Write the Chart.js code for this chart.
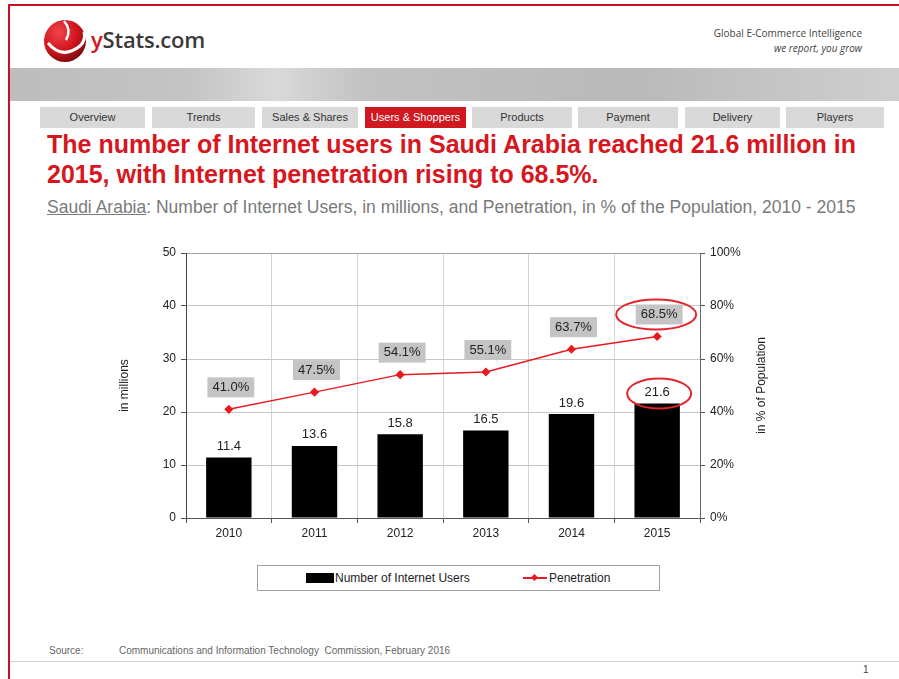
<!DOCTYPE html>
<html>
<head>
<meta charset="utf-8">
<script src="https://cdn.jsdelivr.net/npm/chart.js@4"></script>
<style>
  body { margin: 0; width: 899px; height: 679px; background: #fff; position: relative; overflow: hidden; font-family: "Liberation Sans", Arial, sans-serif; }
  .abs { position: absolute; }
  #frameTop { left: 8px; top: 4px; width: 891px; height: 2px; background: #c8101e; }
  #frameLeft { left: 8px; top: 4px; width: 2px; height: 675px; background: #c8101e; }
  #brand { left: 91px; top: 24px; font-family: "Open Sans", sans-serif; font-weight: 600; font-size: 22px; color: #3a3a3a; letter-spacing: -0.2px; }
  #brand span { color: #d0141c; }
  #claim { right: 37px; top: 26px; text-align: right; font-family: "Open Sans", sans-serif; font-size: 10px; color: #444; line-height: 15px; }
  #banner { left: 10px; top: 68px; width: 889px; height: 33px;
    background: linear-gradient(90deg, #bdbdbd 0%, #c4c4c4 20%, #d9d9d9 30%, #c2c2c2 40%, #b9b9b9 70%, #cfcfcf 100%); }
  .tab { top: 107px; height: 21px; line-height: 21px; background: #d9d9d9; color: #333; font-size: 11px; text-align: center; }
  .tab.on { background: #d01820; color: #fff; }
  #title { left: 47px; top: 129px; font-size: 25px; font-weight: bold; color: #d7161e; line-height: 30px; white-space: nowrap; }
  #subtitle { left: 47px; top: 197px; font-size: 17.5px; color: #7a7a7a; white-space: nowrap; }
  #subtitle u { text-decoration: underline; }
  #chartBox { left: 110px; top: 240px; width: 680px; height: 310px; }
  #legend { left: 257px; top: 565px; width: 401px; height: 24px; border: 1px solid #a0a0a0; font-size: 12px; color: #222; }
  #source { left: 49px; top: 645px; font-size: 10px; color: #666; }
  #source2 { left: 119px; top: 645px; font-size: 10px; color: #666; }
  #footLine { left: 10px; top: 661px; width: 889px; height: 1px; background: #d0d0d0; }
  #pageNo { left: 863px; top: 664px; font-size: 10px; color: #444; }
</style>
</head>
<body>
<div id="frameTop" class="abs"></div>
<div id="frameLeft" class="abs"></div>

<svg class="abs" style="left:42px;top:16px" width="48" height="48" viewBox="0 0 48 48">
  <defs>
    <radialGradient id="ball" cx="0.35" cy="0.3" r="0.75">
      <stop offset="0" stop-color="#f0454a"/>
      <stop offset="0.6" stop-color="#d0141c"/>
      <stop offset="1" stop-color="#7a0a0e"/>
    </radialGradient>
  </defs>
  <circle cx="23" cy="25" r="21" fill="url(#ball)"/>
  <path d="M6 27 Q20 44 38 30 Q44 24 42 16" stroke="#fff" stroke-width="3" fill="none"/>
  <path d="M22 5 Q30 14 24 24" stroke="#fff" stroke-width="2.5" fill="none"/>
  <path d="M42 16 L46 12" stroke="#fff" stroke-width="2" fill="none"/>
</svg>
<div id="brand" class="abs"><span>y</span>Stats.com</div>
<div id="claim" class="abs">Global E-Commerce Intelligence<br><i>we report, you grow</i></div>
<div id="banner" class="abs"></div>

<div class="abs tab" style="left:40px;width:105px">Overview</div>
<div class="abs tab" style="left:152px;width:103px">Trends</div>
<div class="abs tab" style="left:262px;width:96px">Sales &amp; Shares</div>
<div class="abs tab on" style="left:365px;width:101px">Users &amp; Shoppers</div>
<div class="abs tab" style="left:472px;width:100px">Products</div>
<div class="abs tab" style="left:578px;width:100px">Payment</div>
<div class="abs tab" style="left:685px;width:95px">Delivery</div>
<div class="abs tab" style="left:786px;width:98px">Players</div>

<div id="title" class="abs">The number of Internet users in Saudi Arabia reached 21.6 million in<br>2015, with Internet penetration rising to 68.5%.</div>
<div id="subtitle" class="abs"><u>Saudi Arabia</u>: Number of Internet Users, in millions, and Penetration, in % of the Population, 2010 - 2015</div>

<div id="chartBox" class="abs"><canvas id="combo" width="680" height="310"></canvas></div>

<div id="legend" class="abs">
  <div class="abs" style="left:48px;top:7px;width:28px;height:10px;background:#000"></div>
  <div class="abs" style="left:77px;top:5px">Number of Internet Users</div>
  <div class="abs" style="left:265px;top:11px;width:24px;height:1.5px;background:#e8191f"></div>
  <div class="abs" style="left:274px;top:9px;width:5px;height:5px;background:#e8191f;transform:rotate(45deg)"></div>
  <div class="abs" style="left:291px;top:5px">Penetration</div>
</div>

<div id="source" class="abs">Source:</div>
<div id="source2" class="abs">Communications and Information Technology&nbsp; Commission, February 2016</div>
<div id="footLine" class="abs"></div>
<div id="pageNo" class="abs">1</div>

<script>
// categories and values
const years = ['2010', '2011', '2012', '2013', '2014', '2015'];
const users = [11.4, 13.6, 15.8, 16.5, 19.6, 21.6];          // in millions
const penetration = [41.0, 47.5, 54.1, 55.1, 63.7, 68.5];   // in % of population
const circled = [5];                                         // points circled in red

const usersTicks = [0, 10, 20, 30, 40, 50];
const penTicks = [0, 20, 40, 60, 80, 100];

const baseFont = '"Liberation Sans", Arial, sans-serif';

function ellipse(ctx, x, y, rx, ry) {
    ctx.save();
    ctx.strokeStyle = '#e0262c';
    ctx.lineWidth = 2;
    ctx.beginPath();
    ctx.ellipse(x, y, rx, ry, 0, 0, Math.PI * 2);
    ctx.stroke();
    ctx.restore();
}

// value labels over bars and points
const valueLabels = {
    id: 'valueLabels',
    afterDatasetsDraw(chart) {
        const ctx = chart.ctx;
        ctx.save();
        ctx.font = '13px ' + baseFont;
        ctx.textAlign = 'center';
        ctx.textBaseline = 'middle';

        chart.getDatasetMeta(0).data.forEach((bar, i) => {
            const y = bar.y - 11;
            ctx.fillStyle = '#222';
            ctx.fillText(users[i].toFixed(1), bar.x, y);
            if (circled.includes(i)) ellipse(ctx, bar.x + 2, y + 1, 32, 15);
        });

        chart.getDatasetMeta(1).data.forEach((pt, i) => {
            const txt = penetration[i].toFixed(1) + '%';
            const w = ctx.measureText(txt).width + 10;
            const x = pt.x + 2;
            const y = pt.y - 22;
            ctx.fillStyle = '#c4c4c4';
            ctx.fillRect(x - w / 2, y - 10, w, 20);
            ctx.fillStyle = '#222';
            ctx.fillText(txt, x, y);
            if (circled.includes(i)) ellipse(ctx, x - 3, y, 40, 15);
        });
        ctx.restore();
    }
};

// vertical axis titles, both reading bottom to top
const axisTitles = {
    id: 'axisTitles',
    afterDraw(chart) {
        const ctx = chart.ctx;
        const mid = (chart.chartArea.top + chart.chartArea.bottom) / 2;
        ctx.save();
        ctx.font = '12px ' + baseFont;
        ctx.fillStyle = '#222';
        ctx.textAlign = 'center';
        ctx.textBaseline = 'middle';
        [[15, 'in millions'], [652, 'in % of Population']].forEach(([x, t]) => {
            ctx.save();
            ctx.translate(x, mid);
            ctx.rotate(-Math.PI / 2);
            ctx.fillText(t, 0, 0);
            ctx.restore();
        });
        ctx.restore();
    }
};

const ctx = document.getElementById('combo').getContext('2d');
new Chart(ctx, {
    data: {
        labels: years,
        datasets: [
            {
                type: 'bar',
                label: 'Number of Internet Users',
                data: users,
                backgroundColor: '#000',
                barPercentage: 0.53,
                categoryPercentage: 1,
                yAxisID: 'y',
                order: 2
            },
            {
                type: 'line',
                label: 'Penetration',
                data: penetration,
                borderColor: '#e8191f',
                backgroundColor: '#e8191f',
                borderWidth: 1.5,
                pointStyle: 'rectRot',
                pointRadius: 3.5,
                pointHoverRadius: 3.5,
                yAxisID: 'y2',
                order: 1
            }
        ]
    },
    options: {
        responsive: false,
        animation: false,
        devicePixelRatio: 1,
        layout: { padding: { top: 13, left: 0, right: 0, bottom: 0 } },
        plugins: { legend: { display: false }, tooltip: { enabled: false } },
        scales: {
            x: {
                offset: true,
                grid: { color: '#d4d4d4', tickLength: 5, tickColor: '#555', offset: true },
                border: { color: '#555' },
                ticks: { color: '#222', font: { size: 12, family: baseFont }, padding: 3 },
                afterFit: s => { s.height = 32; }
            },
            y: {
                position: 'left',
                min: 0, max: 50,
                afterBuildTicks: s => { s.ticks = usersTicks.map(v => ({ value: v })); },
                grid: {
                    color: c => c.tick && c.tick.value === 50 ? '#a6a6a6' : '#c6c6c6',
                    tickLength: 5, tickColor: '#555'
                },
                border: { color: '#444' },
                ticks: { color: '#222', font: { size: 12, family: baseFont }, padding: 5 },
                afterFit: s => { s.width = 76; }
            },
            y2: {
                position: 'right',
                min: 0, max: 100,
                afterBuildTicks: s => { s.ticks = penTicks.map(v => ({ value: v })); },
                grid: { drawOnChartArea: false, tickLength: 5, tickColor: '#555' },
                border: { color: '#666' },
                ticks: { color: '#222', font: { size: 12, family: baseFont }, padding: 5, callback: v => v + '%' },
                afterFit: s => { s.width = 90; }
            }
        }
    },
    plugins: [valueLabels, axisTitles]
});
</script>
</body>
</html>
